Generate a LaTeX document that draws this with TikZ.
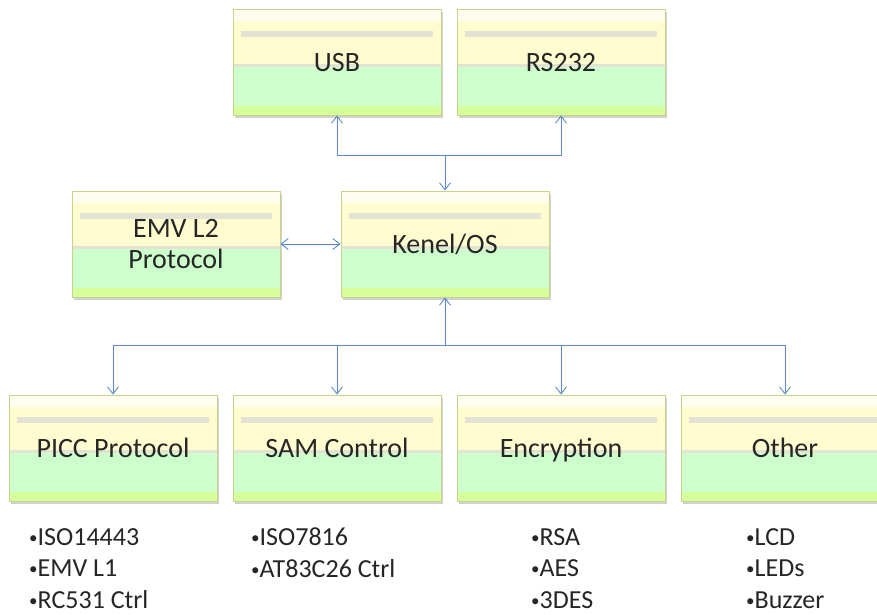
\documentclass[tikz,border=0pt]{standalone}
\usepackage{fontspec}
\setmainfont{Carlito}
\usetikzlibrary{arrows.meta}
\definecolor{ccream}{HTML}{FFFDF0}
\definecolor{cyell}{HTML}{FFFCCF}
\definecolor{cgray}{HTML}{E4E3D3}
\definecolor{cgreen}{HTML}{CCFFCC}
\definecolor{clime}{HTML}{D6FF9C}
\definecolor{cborder}{HTML}{C9D38A}
\definecolor{cline}{HTML}{5A8AD0}
\newcommand\bl{\raisebox{2pt}{\fontsize{17}{17}\selectfont•}}
\newcommand\blkbg[2]{%
  \begin{scope}[shift={(#1,#2)}]
    \fill[black,opacity=0.18] (-102,-50) rectangle (106,56);
    \fill[cyell] (-104,-53) rectangle (104,5);
    \fill[ccream] (-104,-53) rectangle (104,-41);
    \fill[cgray] (-96,-31) rectangle (96,-25);
    \fill[cgray] (-104,2) rectangle (104,5);
    \fill[cgreen] (-104,5) rectangle (104,44);
    \fill[clime] (-104,44) rectangle (104,53);
  \end{scope}}
\tikzset{
  blk/.style={draw=cborder, line width=1pt, minimum width=208, minimum height=106,
    inner sep=0pt, align=center, text=black!85,
    text depth=-12pt,
    font=\fontsize{28}{31}\selectfont},
  conn/.style={draw=cline, line width=0.9pt},
  tip/.tip={Straight Barb[length=7pt,width=11pt]},
  lst/.style={anchor=north west, align=left, inner sep=0pt, text=black!85,
    font=\fontsize{26}{31.5}\selectfont}
}
\begin{document}
\begin{tikzpicture}[x=1pt,y=-1pt]
\clip (0,0) rectangle (877,614);
\fill[white] (0,0) rectangle (877,614);
\blkbg{337}{62}\node[blk] (usb) at (337,62) {USB};
\blkbg{561}{62}\node[blk] (rs) at (561,62) {RS232};
\blkbg{176}{244}\node[blk,text depth=0pt] (emv) at (176,244) {EMV L2\\Protocol};
\blkbg{445}{244}\node[blk,text depth=-4pt] (k) at (445,244) {Kenel/OS};
\blkbg{113}{448}\node[blk,text depth=-4pt] (picc) at (113,448) {PICC Protocol};
\blkbg{337}{448}\node[blk,text depth=-4pt] (sam) at (337,448) {SAM Control};
\blkbg{561}{448}\node[blk,text depth=-4pt] (enc) at (561,448) {Encryption};
\blkbg{785}{448}\node[blk,text depth=-4pt] (oth) at (785,448) {Other};
\coordinate (j1) at (445,155);
\coordinate (j2) at (445,345);
\draw[conn,tip-tip] (usb.south) -- (usb.south |- j1) -- (rs.south |- j1) -- (rs.south);
\draw[conn,-tip] (j1) -- (k.north);
\draw[conn,tip-tip] (emv.east) -- (k.west);
\draw[conn,-tip] (j2) -- (k.south);
\draw[conn,tip-tip] (picc.north) -- (picc.north |- j2) -- (oth.north |- j2) -- (oth.north);
\draw[conn,-tip] (sam.north |- j2) -- (sam.north);
\draw[conn,-tip] (enc.north |- j2) -- (enc.north);
\node[lst] (l1) at (29,528) {\bl ISO14443\\\bl EMV L1\\\bl RC531 Ctrl};
\node[lst] (l2) at (251,528) {\bl ISO7816\\\bl AT83C26 Ctrl};
\node[lst] (l3) at (531,528) {\bl RSA\\\bl AES\\\bl 3DES};
\node[lst] (l4) at (746,528) {\bl LCD\\\bl LEDs\\\bl Buzzer};
\end{tikzpicture}
\end{document}
